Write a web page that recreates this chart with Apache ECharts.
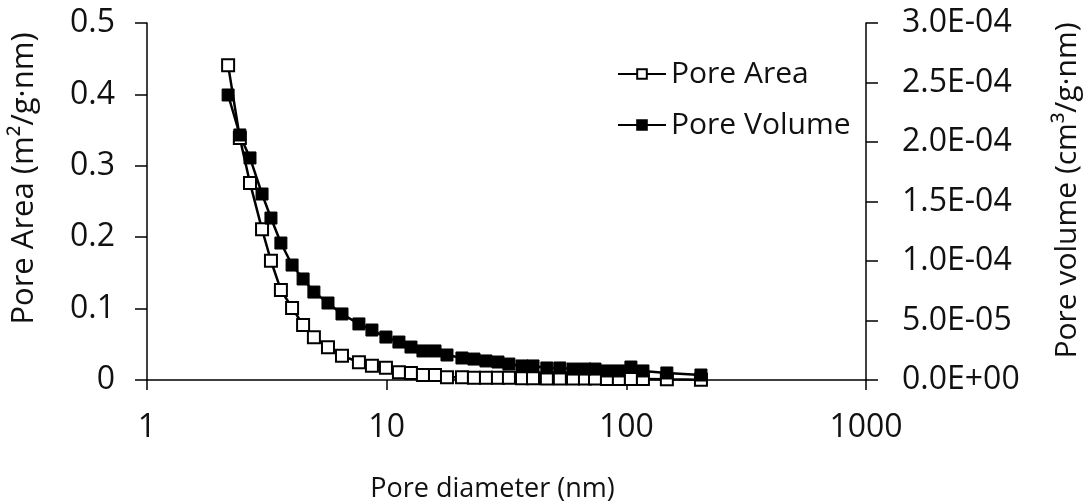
<!DOCTYPE html>
<html>
<head>
<meta charset="utf-8">
<script src="https://cdn.jsdelivr.net/npm/echarts@6/dist/echarts.min.js"></script>
<style>html,body{margin:0;padding:0;background:#fff}#c{width:1091px;height:504px}</style>
</head>
<body>
<div id="c"></div>
<script>
const diameter = [2.18,2.44,2.69,3.02,3.29,3.62,4.03,4.48,4.97,5.69,6.51,7.66,8.68,9.93,11.25,12.63,14.17,15.91,17.85,20.61,23.13,25.96,29.13,32.37,36.7,40.8,46.6,52.8,59.9,67.2,74.0,83.0,93.1,104.5,117.3,147.6,204.8];
const poreArea = [0.441,0.339,0.276,0.211,0.167,0.126,0.101,0.077,0.060,0.046,0.034,0.025,0.020,0.017,0.011,0.0098,0.007,0.007,0.004,0.004,0.003,0.003,0.003,0.003,0.0025,0.0025,0.002,0.002,0.002,0.002,0.002,0.0015,0.0015,0.0015,0.0015,0.001,0.0005];
const poreVolume = [2.395e-4,2.059e-4,1.866e-4,1.563e-4,1.361e-4,1.151e-4,0.966e-4,0.849e-4,0.739e-4,0.647e-4,0.555e-4,0.471e-4,0.420e-4,0.361e-4,0.319e-4,0.277e-4,0.244e-4,0.244e-4,0.210e-4,0.185e-4,0.176e-4,0.160e-4,0.151e-4,0.134e-4,0.118e-4,0.118e-4,0.101e-4,0.101e-4,0.092e-4,0.092e-4,0.092e-4,0.076e-4,0.076e-4,0.109e-4,0.076e-4,0.059e-4,0.042e-4];
const seriesNames = ['Pore Area', 'Pore Volume'];
const xTitle = 'Pore diameter (nm)';
const yLeftTitle = 'Pore Area (m\u00B2/g\u00B7nm)';
const yRightTitle = 'Pore volume (cm\u00B3/g\u00B7nm)';

const FONT = 'Open Sans';
const TXT = '#111';
function sci(v) {
  let s = Number(v.toPrecision(6)).toExponential(1).toUpperCase();
  return s.replace(/E([+-])(\d)$/, 'E$10$2');
}
const chart = echarts.init(document.getElementById('c'));
chart.setOption({
  animation: false,
  backgroundColor: '#fff',
  grid: {left: 147, right: 225, top: 23, bottom: 124, containLabel: false, outerBoundsMode: 'none'},
  legend: {
    orient: 'vertical', left: 612, top: 54, itemWidth: 48, itemHeight: 12, itemGap: 21,
    textStyle: {fontFamily: FONT, fontSize: 30, color: TXT},
    data: seriesNames
  },
  xAxis: {
    type: 'log', logBase: 10, min: 1, max: 1000,
    name: xTitle, nameLocation: 'middle', nameGap: 96,
    nameTextStyle: {fontFamily: FONT, fontSize: 27, color: TXT, padding: [0, 28, 0, 0]},
    axisLine: {lineStyle: {color: '#000', width: 1.5}},
    axisTick: {show: true, length: 10, lineStyle: {color: '#000', width: 1.5}},
    axisLabel: {fontFamily: FONT, fontSize: 32, color: TXT, margin: 32,
      formatter: v => String(Math.round(v))},
    splitLine: {show: false}, minorTick: {show: false}
  },
  yAxis: [{
    type: 'value', min: 0, max: 0.5, interval: 0.1, position: 'left',
    name: yLeftTitle, nameLocation: 'middle', nameGap: 107, nameRotate: 90,
    nameTextStyle: {fontFamily: FONT, fontSize: 31, color: TXT, padding: [0, 0, 0, 46]},
    axisLine: {show: true, lineStyle: {color: '#000', width: 1.5}},
    axisTick: {show: true, length: 12, lineStyle: {color: '#000', width: 1.5}},
    axisLabel: {fontFamily: FONT, fontSize: 32, color: TXT, margin: 32,
      formatter: v => (v === 0 ? '0' : String(Number(v.toFixed(1))))},
    splitLine: {show: false}
  }, {
    type: 'value', min: 0, max: 3e-4, interval: 5e-5, position: 'right',
    name: yRightTitle, nameLocation: 'middle', nameGap: 186, nameRotate: 90,
    nameTextStyle: {fontFamily: FONT, fontSize: 30, color: TXT, padding: [0, 0, 0, 22]},
    axisLine: {show: true, lineStyle: {color: '#000', width: 1.5}},
    axisTick: {show: true, length: 12, lineStyle: {color: '#000', width: 1.5}},
    axisLabel: {fontFamily: FONT, fontSize: 32, color: TXT, margin: 36, formatter: sci},
    splitLine: {show: false}
  }],
  series: [{
    name: seriesNames[0], type: 'line', yAxisIndex: 0,
    data: diameter.map((d, i) => [d, poreArea[i]]),
    symbol: 'rect', symbolSize: 12, showSymbol: true, showAllSymbol: true,
    lineStyle: {color: '#000', width: 2.5},
    itemStyle: {color: '#fff', borderColor: '#000', borderWidth: 2}
  }, {
    name: seriesNames[1], type: 'line', yAxisIndex: 1,
    data: diameter.map((d, i) => [d, poreVolume[i]]),
    symbol: 'rect', symbolSize: 12, showSymbol: true, showAllSymbol: true,
    lineStyle: {color: '#000', width: 2.5},
    itemStyle: {color: '#000', borderColor: '#000', borderWidth: 1}
  }]
});
</script>
</body>
</html>
